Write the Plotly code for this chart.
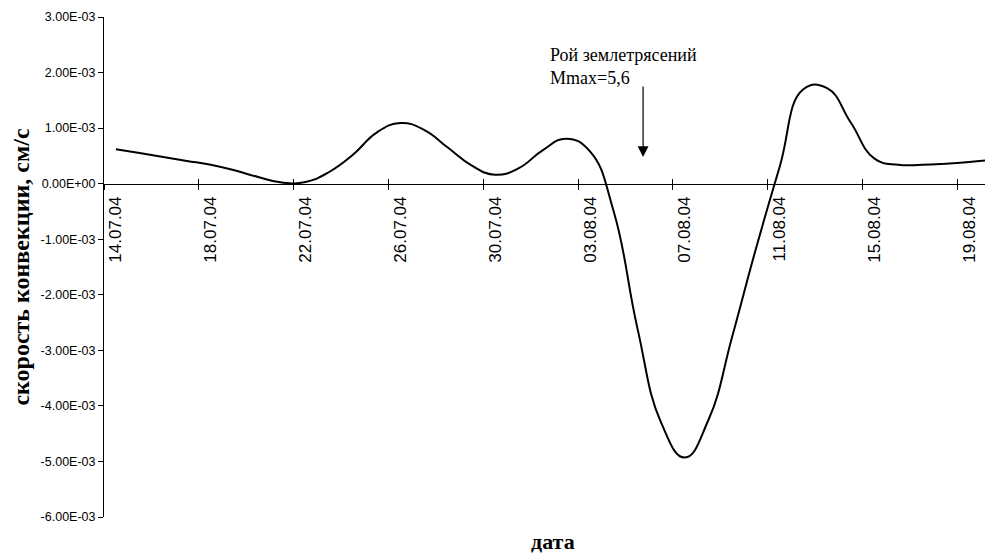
import plotly.graph_objects as go

# ---- data ----
dates = ["14.07.04", "15.07.04", "16.07.04", "17.07.04", "18.07.04", "19.07.04",
         "20.07.04", "21.07.04", "22.07.04", "23.07.04", "24.07.04", "25.07.04",
         "26.07.04", "27.07.04", "28.07.04", "29.07.04", "30.07.04", "31.07.04",
         "01.08.04", "02.08.04", "03.08.04", "04.08.04", "05.08.04", "06.08.04",
         "07.08.04", "08.08.04", "09.08.04", "10.08.04", "11.08.04", "12.08.04",
         "13.08.04", "14.08.04", "15.08.04", "16.08.04", "17.08.04", "18.08.04",
         "19.08.04", "20.08.04"]
velocity = [6.2e-4, 5.5e-4, 4.8e-4, 4.1e-4, 3.4e-4, 2.4e-4,
            1.2e-4, 0.2e-4, 0.3e-4, 2.1e-4, 5.2e-4, 9.2e-4,
            1.09e-3, 9.7e-4, 6.5e-4, 3.3e-4, 1.6e-4, 2.8e-4,
            6.0e-4, 8.1e-4, 5.8e-4, -5.0e-4, -2.6e-3, -4.3e-3,
            -4.93e-3, -4.25e-3, -2.75e-3, -1.17e-3, 3.0e-4, 1.70e-3,
            1.72e-3, 1.10e-3, 4.5e-4, 3.4e-4, 3.4e-4, 3.6e-4,
            3.9e-4, 4.3e-4]
tick_labels = ["14.07.04", "18.07.04", "22.07.04", "26.07.04", "30.07.04",
               "03.08.04", "07.08.04", "11.08.04", "15.08.04", "19.08.04"]
y_ticks = [3e-3, 2e-3, 1e-3, 0.0, -1e-3, -2e-3, -3e-3, -4e-3, -5e-3, -6e-3]
annot_text = "Рой землетрясений<br>Mmax=5,6"
event_day = 22.24
event_level = 4.8e-4

x_idx = list(range(len(dates)))
tick_pos = [dates.index(t) for t in tick_labels]
tick_bounds = [p - 0.5 for p in tick_pos]
y_text = [("%.2E" % v) for v in y_ticks]

fig = go.Figure()
fig.add_trace(go.Scatter(
    x=x_idx, y=velocity, mode="lines",
    line=dict(color="black", width=2, shape="spline", smoothing=1.3),
    hoverinfo="skip", showlegend=False))
fig.add_trace(go.Scatter(x=[tick_bounds[0]], y=[None], xaxis="x2",
                         mode="lines", showlegend=False, hoverinfo="skip"))

xrange = [-0.5, 37.0]
zero_pos = (0 - y_ticks[-1]) / (y_ticks[0] - y_ticks[-1])

fig.update_layout(
    width=985, height=547,
    margin=dict(l=96, r=0, t=9, b=38, autoexpand=False),
    paper_bgcolor="white", plot_bgcolor="white",
    font=dict(family="Liberation Sans, Arial", color="black"),
    xaxis=dict(
        range=xrange, anchor="free", position=zero_pos, automargin=False,
        showline=True, linecolor="black", linewidth=1,
        showgrid=False, zeroline=False,
        tickmode="array", tickvals=tick_pos, ticktext=tick_labels,
        ticks="", tickangle=-90, tickfont=dict(size=17, color="black"),
        ticklabelstandoff=5,
        minor=dict(tickmode="array", tickvals=tick_bounds, ticks="outside",
                   ticklen=5, tickcolor="black", tickwidth=1, showgrid=False),
        title=None,
    ),
    xaxis2=dict(
        range=xrange, anchor="free", position=zero_pos, overlaying="x",
        automargin=False,
        showline=False, showgrid=False, zeroline=False,
        tickmode="array", tickvals=tick_bounds, ticks="inside",
        ticklen=5, tickcolor="black", tickwidth=1, showticklabels=False,
    ),
    yaxis=dict(
        range=[y_ticks[-1], y_ticks[0]], domain=[0, 1], automargin=False,
        showline=True, linecolor="black", linewidth=1,
        showgrid=False, zeroline=False,
        tickmode="array", tickvals=y_ticks, ticktext=y_text,
        ticks="outside", ticklen=5, tickcolor="black",
        tickfont=dict(size=12.5, color="black"),
        title=dict(text="скорость конвекции, см/с", standoff=5,
                   font=dict(family="Liberation Serif, Times New Roman", size=24,
                             color="black", weight="bold")),
    ),
)

fig.add_annotation(
    xref="paper", yref="paper", x=0.505, y=-0.049, yanchor="middle",
    text="<b>дата</b>", showarrow=False,
    font=dict(family="Liberation Serif, Times New Roman", size=22, color="black"))

fig.add_annotation(
    x=event_day, y=event_level, xref="x", yref="y",
    ax=0, ay=-72, text="", showarrow=True,
    arrowhead=2, arrowsize=1.8, arrowwidth=1.2, arrowcolor="black")

fig.add_annotation(
    x=18.23, y=2.53e-3, xref="x", yref="y", xanchor="left", yanchor="top",
    text=annot_text, showarrow=False, align="left",
    font=dict(family="Liberation Serif, Times New Roman", size=18, color="black"))

fig.write_html("out.html")
